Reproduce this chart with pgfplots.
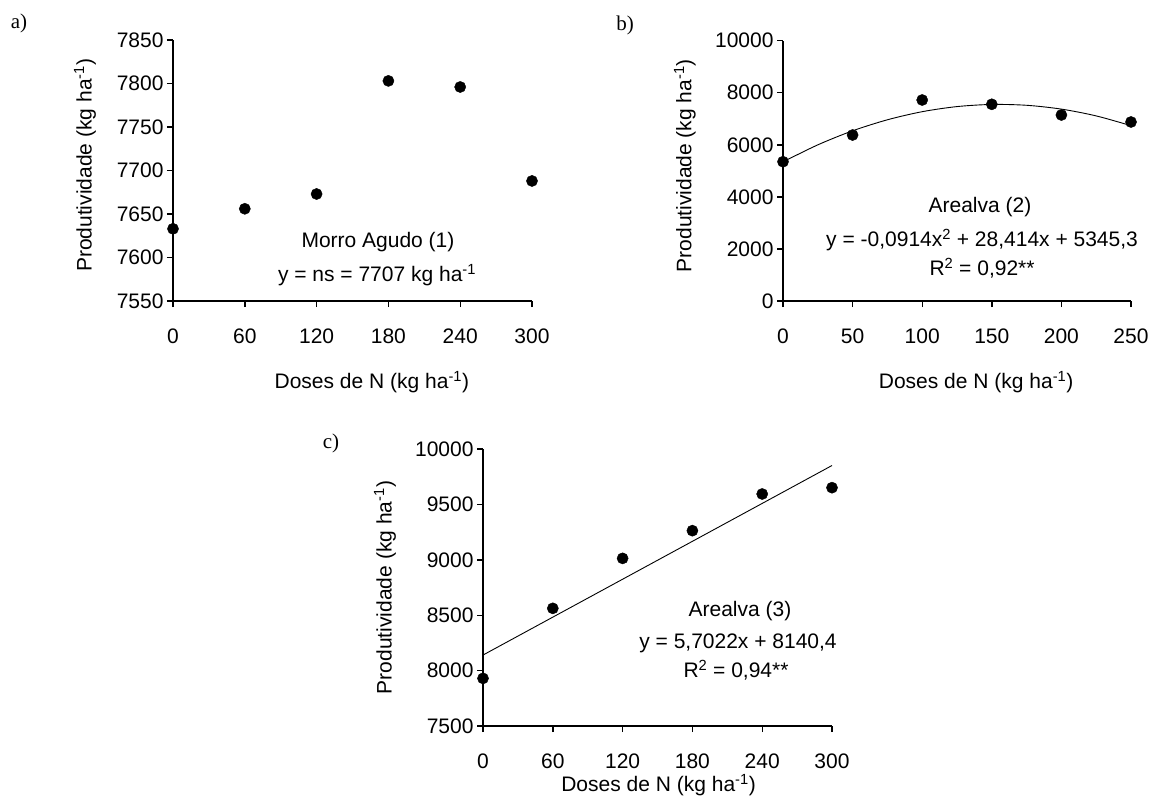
\documentclass[border=0pt]{standalone}
\usepackage{fontspec}
\setmainfont{Liberation Sans}
\newfontfamily\timesf{Liberation Serif}
\usepackage{pgfplots}
\pgfplotsset{compat=1.18}
\newcommand{\bigf}{\fontsize{21bp}{25bp}\selectfont}
\pgfplotsset{
  myax/.style={
    scale only axis,
    anchor=south west,
    axis x line*=bottom,
    axis y line*=left,
    axis line style={line width=1.4bp, black},
    tick style={line width=1.4bp, black},
    tick align=outside,
    major tick length=6bp,
    font=\bigf,
    tick label style={font=\bigf},
    label style={font=\bigf},
    /pgf/number format/assume math mode=true,
    /pgf/number format/1000 sep={},
    scaled ticks=false,
    clip=false,
    xticklabel style={anchor=base, yshift=-36.5bp},
    yticklabel style={anchor=east},
    every node/.append style={font=\bigf},
  },
  dots/.style={only marks, mark=*, mark size=5.6bp, black},
  fit/.style={no marks, black, line width=0.9bp},
}
\begin{document}
\begin{tikzpicture}
\useasboundingbox (0,0) rectangle (1152bp,-801bp);
% panel labels
\node[font=\timesf\fontsize{21bp}{24bp}\selectfont] at (19bp,-23bp) {a)};
\node[font=\timesf\fontsize{21bp}{24bp}\selectfont] at (625bp,-25bp) {b)};
\node[font=\timesf\fontsize{21bp}{24bp}\selectfont] at (331bp,-443bp) {c)};

% ---------- a)
\begin{axis}[myax,
  at={(173bp,-301bp)}, width=359bp, height=261bp,
  xmin=0, xmax=300, ymin=7550, ymax=7850,
  xtick={0,60,120,180,240,300},
  ytick={7550,7600,7650,7700,7750,7800,7850},
  xlabel={Doses de N (kg ha\textsuperscript{-1})},
  ylabel={Produtividade (kg ha\textsuperscript{-1})},
  xlabel style={at={(axis description cs:0.554,-0.310)}, anchor=center},
  ylabel style={at={(axis description cs:-0.245,0.52)}, anchor=center},
]
\addplot[dots] coordinates {(0,7633) (60,7656) (120,7673) (180,7803) (240,7796) (300,7688)};
\node at (axis cs:171.3,7617.8) {Morro Agudo (1)};
\node at (axis cs:170.5,7579.9) {y = ns = 7707 kg ha\textsuperscript{-1}};
\end{axis}

% ---------- b)
\begin{axis}[myax,
  at={(783bp,-301bp)}, width=348bp, height=260.3bp,
  xmin=0, xmax=250, ymin=0, ymax=10000,
  xtick={0,50,100,150,200,250},
  ytick={0,2000,4000,6000,8000,10000},
  xlabel={Doses de N (kg ha\textsuperscript{-1})},
  ylabel={Produtividade (kg ha\textsuperscript{-1})},
  xlabel style={at={(axis description cs:0.555,-0.311)}, anchor=center},
  ylabel style={at={(axis description cs:-0.282,0.52)}, anchor=center},
]
\addplot[fit, smooth] coordinates {(0,5345) (25,5999) (50,6538) (75,6962) (100,7273) (125,7469) (150,7551) (175,7519) (200,7372) (225,7111) (250,6736)};
\addplot[dots] coordinates {(0,5351) (50,6377) (100,7722) (150,7557) (200,7146) (250,6877)};
\node at (axis cs:141.5,3611) {Arealva (2)};
\node at (axis cs:143,2343) {y = -0,0914x\textsuperscript{2} + 28,414x + 5345,3};
\node at (axis cs:143,1268) {R\textsuperscript{2} = 0,92**};
\end{axis}

% ---------- c)
\begin{axis}[myax,
  at={(483bp,-726bp)}, width=349bp, height=277bp,
  xmin=0, xmax=300, ymin=7500, ymax=10000,
  xtick={0,60,120,180,240,300},
  ytick={7500,8000,8500,9000,9500,10000},
  xlabel={Doses de N (kg ha\textsuperscript{-1})},
  ylabel={Produtividade (kg ha\textsuperscript{-1})},
  xlabel style={at={(axis description cs:0.503,-0.213)}, anchor=center},
  ylabel style={at={(axis description cs:-0.281,0.5)}, anchor=center},
]
\addplot[fit] coordinates {(0,8140.4) (300,9851.1)};
\addplot[dots] coordinates {(0,7930) (60,8562) (120,9013) (180,9263) (240,9594) (300,9651)};
\node at (axis cs:220.9,8538) {Arealva (3)};
\node at (axis cs:219.2,8249) {y = 5,7022x + 8140,4};
\node at (axis cs:217.5,8005) {R\textsuperscript{2} = 0,94**};
\end{axis}
\end{tikzpicture}
\end{document}
